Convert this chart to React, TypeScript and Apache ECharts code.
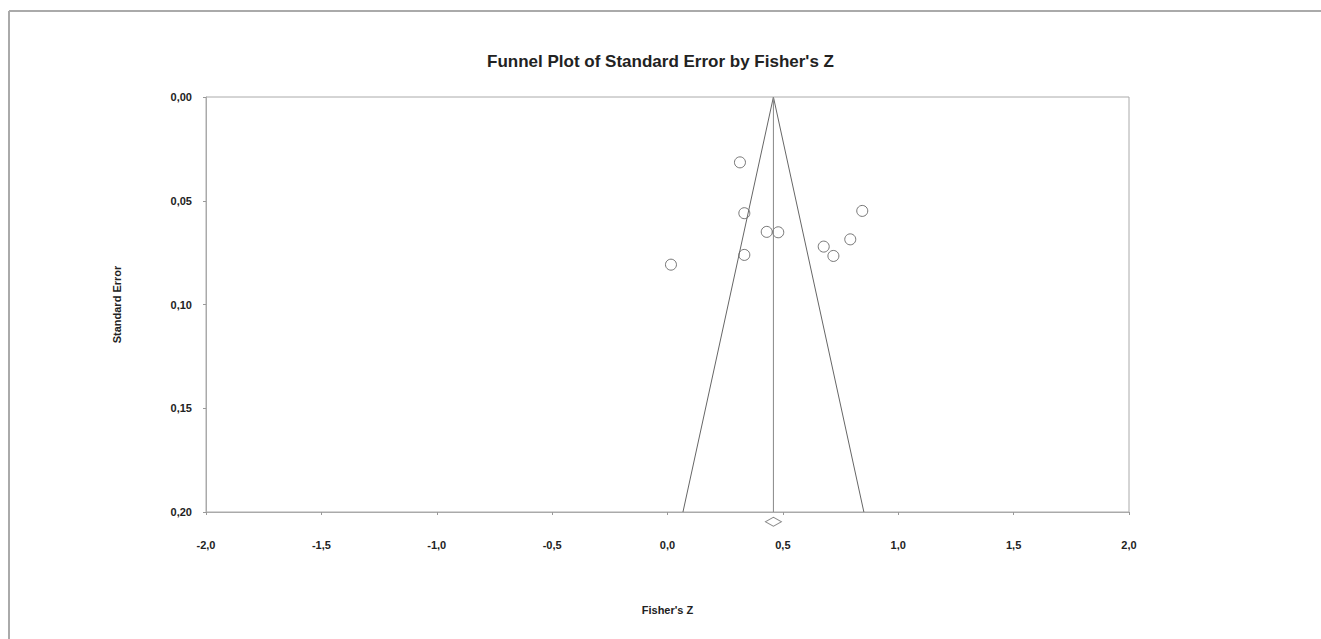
import React, { useEffect, useRef } from "react";
import * as echarts from "echarts";

const studyZ = [0.314, 0.333, 0.43, 0.48, 0.844, 0.792, 0.677, 0.719, 0.333, 0.015];
const studySE = [0.0315, 0.056, 0.065, 0.0652, 0.0549, 0.0686, 0.0721, 0.0766, 0.0761, 0.0808];
const funnelZ = [0.067, 0.459, 0.851];
const funnelSE = [0.2, 0, 0.2];
const centerZ = 0.459;
const summarySE = 0.2047;
const xTicks = [-2, -1.5, -1, -0.5, 0, 0.5, 1, 1.5, 2];
const yTicks = [0, 0.05, 0.1, 0.15, 0.2];

export default function App() {
  const ref = useRef<HTMLDivElement>(null);
  useEffect(() => {
    if (!ref.current) return;
    const chart = echarts.init(ref.current, null, { renderer: "svg" });
    const font = "Liberation Sans, Arial, sans-serif";
    chart.setOption({
      animation: false,
      backgroundColor: "#fff",
      title: {
        text: "Funnel Plot of Standard Error by Fisher's Z",
        left: "center",
        top: 48,
        textStyle: { fontFamily: font, fontSize: 17, fontWeight: "bold", color: "#222" },
      },
      graphic: [
        { type: "line", shape: { x1: 9, y1: 11, x2: 1321, y2: 11 }, style: { stroke: "#aaa", lineWidth: 2 } },
        { type: "line", shape: { x1: 9, y1: 11, x2: 9, y2: 639 }, style: { stroke: "#aaa", lineWidth: 2 } },
      ],
      grid: { left: 206, top: 97, right: 192, bottom: 127, show: true, borderColor: "#aaa", borderWidth: 1 },
      xAxis: {
        type: "value",
        min: xTicks[0],
        max: xTicks[xTicks.length - 1],
        interval: 0.5,
        name: "Fisher's Z",
        nameLocation: "middle",
        nameGap: 92,
        nameTextStyle: { fontFamily: font, fontSize: 11, fontWeight: "bold", color: "#222" },
        axisLine: { onZero: false, lineStyle: { color: "#aaa" } },
        axisTick: { show: true, length: 3, inside: false, lineStyle: { color: "#999" } },
        axisLabel: {
          margin: 27,
          fontFamily: font,
          fontSize: 11,
          fontWeight: "bold",
          color: "#222",
          formatter: (v: number) => v.toFixed(1).replace(".", ","),
        },
        splitLine: { show: false },
      },
      yAxis: {
        type: "value",
        inverse: true,
        min: yTicks[0],
        max: yTicks[yTicks.length - 1],
        interval: 0.05,
        name: "Standard Error",
        nameLocation: "middle",
        nameGap: 84,
        nameTextStyle: { fontFamily: font, fontSize: 11, fontWeight: "bold", color: "#222" },
        axisLine: { show: true, onZero: false, lineStyle: { color: "#aaa" } },
        axisTick: { show: true, length: 3, lineStyle: { color: "#999" } },
        axisLabel: {
          margin: 14,
          fontFamily: font,
          fontSize: 11,
          fontWeight: "bold",
          color: "#222",
          formatter: (v: number) => v.toFixed(2).replace(".", ","),
        },
        splitLine: { show: false },
      },
      series: [
        {
          type: "line",
          data: funnelZ.map((z, i) => [z, funnelSE[i]]),
          symbol: "none",
          lineStyle: { color: "#666", width: 1 },
        },
        {
          type: "line",
          data: [[centerZ, yTicks[0]], [centerZ, yTicks[yTicks.length - 1]]],
          symbol: "none",
          lineStyle: { color: "#888", width: 1 },
        },
        {
          type: "scatter",
          data: studyZ.map((z, i) => [z, studySE[i]]),
          symbol: "circle",
          symbolSize: 11,
          itemStyle: { color: "#fff", borderColor: "#555", borderWidth: 1 },
        },
        {
          type: "scatter",
          data: [[centerZ, summarySE]],
          clip: false,
          symbol: "diamond",
          symbolSize: [16, 9],
          itemStyle: { color: "#fff", borderColor: "#666", borderWidth: 1 },
        },
      ],
    });
    return () => chart.dispose();
  }, []);
  return <div ref={ref} style={{ position: "fixed", left: 0, top: 0, width: 1321, height: 639 }} />;
}
